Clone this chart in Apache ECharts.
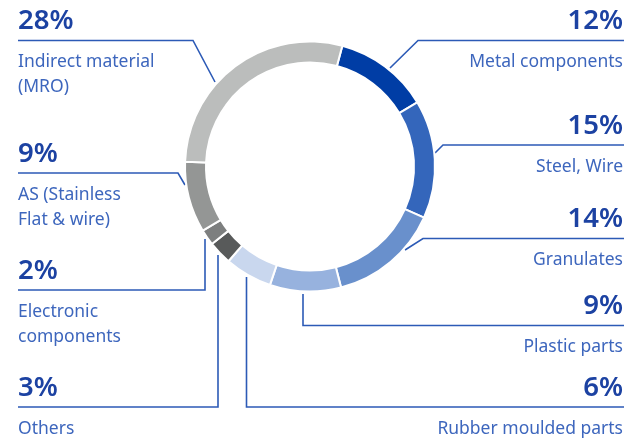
<!DOCTYPE html>
<html>
<head>
<meta charset="utf-8">
<script src="https://cdn.jsdelivr.net/npm/echarts@6/dist/echarts.min.js"></script>
<style>
html,body{margin:0;padding:0;background:#fff;}
#c{width:627px;height:441px;}
</style>
</head>
<body>
<div id="c"></div>
<script>
// ---- data ----
var categories = ['Metal components', 'Steel, Wire', 'Granulates', 'Plastic parts', 'Rubber moulded parts', 'Others', 'Electronic\ncomponents', 'AS (Stainless\nFlat & wire)', 'Indirect material\n(MRO)'];
var shares = [12, 15, 14, 9, 6, 3, 2, 9, 28];

// ---- styling / layout (not data) ----
var colors = ['#003da5', '#3466bb', '#6990cc', '#97b2de', '#c9d7ee', '#585a5a', '#7d7f7f', '#949695', '#bbbdbc'];
// label anchor: side, y of leader horizontal line, leader polyline (from ring outward)
var leaders = [
  { side: 'right', lineY: 40.5, pts: [[390, 68], [418, 40.5], [624, 40.5]] },
  { side: 'right', lineY: 145, pts: [[435, 153], [443, 145], [624, 145]] },
  { side: 'right', lineY: 238.5, pts: [[405, 250], [423, 238.5], [624, 238.5]] },
  { side: 'right', lineY: 325.5, pts: [[303, 294], [303, 325.5], [624, 325.5]] },
  { side: 'right', lineY: 407, pts: [[246.5, 277], [246.5, 407], [624, 407]] },
  { side: 'left', lineY: 407, pts: [[218, 255], [218, 407], [18, 407]] },
  { side: 'left', lineY: 290, pts: [[205, 239], [205, 290], [18, 290]] },
  { side: 'left', lineY: 173, pts: [[185, 185], [178, 173], [18, 173]] },
  { side: 'left', lineY: 40.5, pts: [[215, 82], [193, 40.5], [18, 40.5]] }
];

var chart = echarts.init(document.getElementById('c'), null, { renderer: 'canvas' });
var FONT = '"Noto Sans", "DejaVu Sans", sans-serif';
chart.setOption({
  animation: false,
  backgroundColor: '#ffffff',
  series: [{
    type: 'pie',
    center: [310, 166.5],
    radius: [104, 125],
    startAngle: 75,
    clockwise: true,
    avoidLabelOverlap: false,
    itemStyle: { borderColor: '#ffffff', borderWidth: 2 },
    data: categories.map(function (c, i) {
      return { name: c, value: shares[i], itemStyle: { color: colors[i] } };
    }),
    label: {
      show: true,
      position: 'outside',
      formatter: function (p) {
        return '{p|' + p.value + '%}\n' + p.name.split('\n').map(function (s) { return '{n|' + s + '}'; }).join('\n');
      },
      rich: {
        p: { fontFamily: FONT, fontSize: 27.5, fontWeight: 600, color: '#1c42a2', lineHeight: 57 },
        n: { fontFamily: FONT, fontSize: 17.5, color: '#3d66bd', lineHeight: 25 }
      }
    },
    labelLine: {
      show: true,
      smooth: false,
      lineStyle: { color: '#2c5ab6', width: 1.6 }
    },
    labelLayout: function (params) {
      var L = leaders[params.dataIndex];
      return {
        x: L.side === 'left' ? 18 : 623,
        y: L.lineY - 47.5,
        align: L.side,
        verticalAlign: 'top',
        labelLinePoints: L.pts
      };
    }
  }]
});
</script>
</body>
</html>
